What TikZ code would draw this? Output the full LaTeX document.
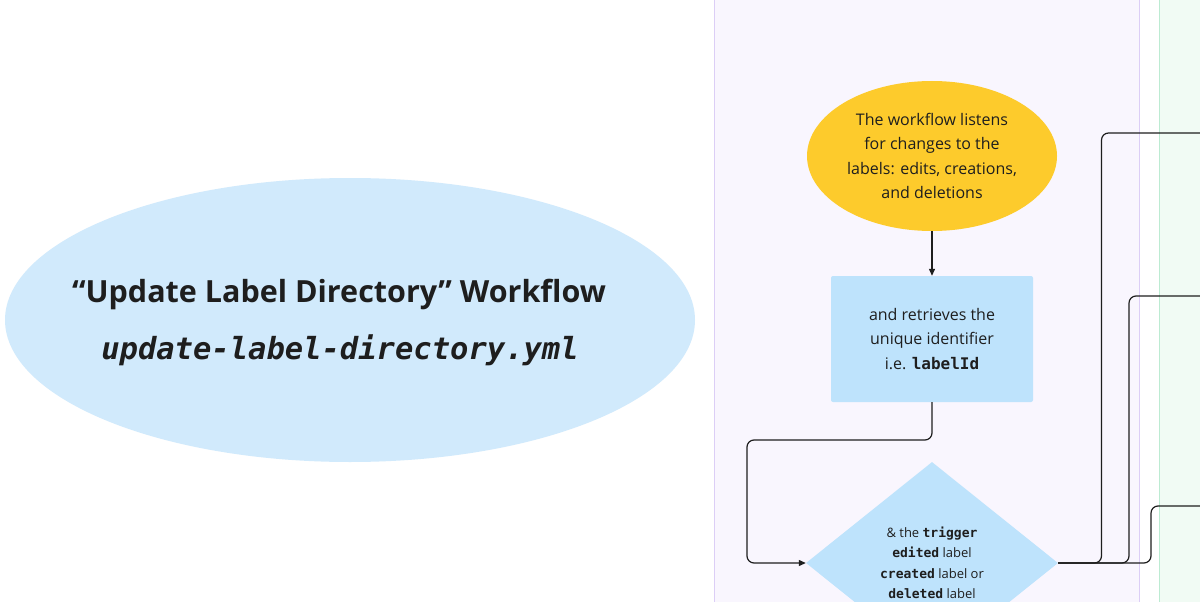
\documentclass[tikz,border=0pt]{standalone}
\usepackage{fontspec}
\setmainfont{Open Sans}
\newfontfamily\titlefont{Open Sans}
\newfontfamily\codefont{DejaVu Sans Mono}
\usetikzlibrary{shapes.geometric,arrows.meta}
\definecolor{bigblue}{HTML}{D1EAFC}
\definecolor{yel}{HTML}{FDCB2C}
\definecolor{boxblue}{HTML}{BEE3FC}
\definecolor{lavfill}{HTML}{F9F6FE}
\definecolor{lavline}{HTML}{DCCEF6}
\definecolor{grnfill}{HTML}{F1FBF4}
\definecolor{grnline}{HTML}{BCEBD2}
\definecolor{ink}{HTML}{1E1E1E}
\tikzset{
  lane/.style={draw=#1line, fill=#1fill, line width=0.8pt},
  conn/.style={draw=ink, line width=1.2pt, rounded corners=7pt},
  arr/.style={conn, -{Triangle[length=7pt,width=6pt]}},
  bodytext/.style={text=ink, font=\fontsize{16}{24.5}\selectfont, align=center},
}
\newcommand{\cd}[1]{{\codefont\bfseries #1}}
\begin{document}
\begin{tikzpicture}[x=1pt,y=-1pt]
\useasboundingbox (0,0) rectangle (1200,602);
\clip (0,0) rectangle (1200,602);
\fill[white] (0,0) rectangle (1200,602);
% lanes
\path[lane=lav] (714.5,-10) rectangle (1139.5,620);
\path[lane=grn] (1159.5,-10) rectangle (1230,620);
% title ellipse
\node[ellipse, fill=bigblue, minimum width=690pt, minimum height=284pt, inner sep=0pt] (title) at (350,320) {};
\node[text=ink, font=\titlefont\bfseries\fontsize{30.5}{36}\selectfont] (t1) at (339,294) {“Update Label Directory” Workflow};
\node[text=ink, font=\codefont\bfseries\itshape\fontsize{30.5}{36}\selectfont] (t2) at (340,350) {update-label-directory.yml};
% yellow ellipse
\node[ellipse, fill=yel, minimum width=250pt, minimum height=150pt, inner sep=0pt, bodytext] (yell) at (932,156)
  {The workflow listens\\for changes to the\\labels: edits, creations,\\and deletions};
% blue box
\node[rectangle, rounded corners=2pt, fill=boxblue, minimum width=202pt, minimum height=126pt, inner sep=0pt, bodytext] (box) at (932,339)
  {and retrieves the\\unique identifier\\i.e. \cd{labelId}};
% diamond
\node[diamond, fill=boxblue, minimum width=252pt, minimum height=202pt, inner sep=0pt, text=ink, align=center,
  font=\fontsize{13}{20.5}\selectfont] (dia) at (932,563)
  {\& the \cd{trigger}\\\cd{edited} label\\\cd{created} label or\\\cd{deleted} label};
% connectors
\coordinate (c1) at (747,440);
\coordinate (e1) at (1210,133);
\coordinate (e2) at (1210,296);
\coordinate (e3) at (1210,506);
\draw[arr] (yell.south) -- (box.north);
\draw[arr] (box.south) -- (box.south |- c1) -- (c1) -- (c1 |- dia.west) -- (dia.west);
\draw[conn] (dia.east) -- (1101.5,563) -- (1101.5,133) -- (e1);
\draw[conn] (dia.east) -- (1129,563) -- (1129,296) -- (e2);
\draw[conn] (dia.east) -- (1151,563) -- (1151,506) -- (e3);
\end{tikzpicture}
\end{document}
